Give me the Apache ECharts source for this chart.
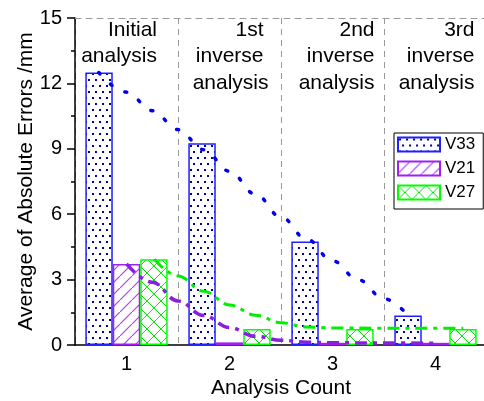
<!DOCTYPE html>
<html>
<head>
<meta charset="utf-8">
<script src="https://cdn.jsdelivr.net/npm/echarts@6/dist/echarts.min.js"></script>
<style>
html, body { margin: 0; padding: 0; background: #fff; }
#main { width: 484px; height: 401px; }
</style>
</head>
<body>
<div id="main"></div>
<script>
// data
var counts = ['1', '2', '3', '4'];
var v33 = [12.5, 9.25, 4.75, 1.35];
var v21 = [3.72, 0.12, 0.1, 0.1];
var v27 = [3.93, 0.73, 0.73, 0.73];
// trend curves: [analysis count, error]
var v33Trend = [[0.73, 12.5], [1, 11.6], [1.25, 10.75], [1.5, 9.88], [1.75, 8.96], [2, 7.97], [2.25, 6.92],
    [2.5, 5.87], [2.75, 4.85], [3, 3.86], [3.25, 2.99], [3.5, 2.12], [3.73, 1.38]];
var v21Trend = [[1, 3.72], [1.25, 2.88], [1.5, 2.02], [1.75, 1.35], [2, 0.8], [2.25, 0.4], [2.5, 0.22],
    [2.75, 0.13], [3, 0.1], [3.5, 0.09], [4, 0.08]];
var v27Trend = [[1.27, 3.93], [1.5, 3.17], [1.75, 2.46], [2, 1.84], [2.25, 1.37], [2.5, 1.02], [2.75, 0.83],
    [3, 0.78], [3.5, 0.77], [4, 0.77], [4.27, 0.77]];
var stageLines = [['Initial', 'analysis'], ['1st', 'inverse', 'analysis'],
    ['2nd', 'inverse', 'analysis'], ['3rd', 'inverse', 'analysis']];

var FONT = 'Liberation Sans, Arial, sans-serif';

// fill patterns for the bars
function tile(w, h, draw) {
    var c = document.createElement('canvas');
    c.width = w; c.height = h;
    var g = c.getContext('2d');
    g.fillStyle = '#ffffff';
    g.fillRect(0, 0, w, h);
    draw(g);
    return { image: c, repeat: 'repeat' };
}
function dots() {
    return tile(7, 12, function (g) {
        g.fillStyle = '#00009c';
        g.fillRect(1, 1, 2, 2);
        g.fillRect(4, 7, 2, 2);
    });
}
function hatch() {
    return tile(12, 12, function (g) {
        g.strokeStyle = '#b040ff';
        g.lineWidth = 1.2;
        g.beginPath();
        g.moveTo(-1, 13); g.lineTo(13, -1);
        g.stroke();
    });
}
function cross() {
    return tile(14, 14, function (g) {
        g.strokeStyle = '#00ee00';
        g.lineWidth = 1;
        g.beginPath();
        g.moveTo(-1, -1); g.lineTo(15, 15);
        g.moveTo(-1, 15); g.lineTo(15, -1);
        g.stroke();
    });
}

// stage captions at the top of each band
var captionRight = [157, 263.5, 374.5, 474.5];
var captionBase = [37, 63.5, 90];
var graphics = [];
stageLines.forEach(function (lines, i) {
    lines.forEach(function (t, j) {
        var x = captionRight[i];
        if (i === 1 && j === 2) x += 5;
        graphics.push({
            type: 'text',
            x: x, y: captionBase[j] - 7,
            style: { text: t, align: 'right', verticalAlign: 'middle', font: '21px ' + FONT, fill: '#000' }
        });
    });
});

var myChart = echarts.init(document.getElementById('main'));

var option = {
    animation: false,
    backgroundColor: '#fff',
    textStyle: { fontFamily: FONT },
    grid: { left: 75, top: 18, width: 412, bottom: 56, outerBoundsMode: 'none' },
    legend: {
        data: ['V33', 'V21', 'V27'],
        orient: 'vertical',
        left: 394, top: 133,
        icon: 'rect',
        itemWidth: 42, itemHeight: 14, itemGap: 7,
        padding: [3, 8, 8, 3],
        borderColor: '#000', borderWidth: 1,
        textStyle: { fontSize: 17, color: '#000' }
    },
    xAxis: [{
        type: 'category',
        data: counts,
        name: 'Analysis Count',
        nameLocation: 'middle',
        nameGap: 33,
        nameMoveOverlap: false,
        nameTextStyle: { fontSize: 21, color: '#000' },
        axisLine: { lineStyle: { color: '#000', width: 1.5 } },
        axisTick: { alignWithLabel: true, length: 8, lineStyle: { color: '#000', width: 1.5 } },
        axisLabel: { fontSize: 20, color: '#000', margin: 9 },
        splitLine: { show: true, lineStyle: { color: '#999', type: [6, 5], width: 1 } }
    }, {
        type: 'value',
        position: 'top',
        min: 0.5, max: 4.5,
        axisLine: { show: true, onZero: false, lineStyle: { color: '#999', type: [6, 5], width: 1 } },
        axisTick: { show: false },
        axisLabel: { show: false },
        splitLine: { show: false }
    }],
    yAxis: {
        type: 'value',
        min: 0, max: 15, interval: 3,
        name: 'Average of Absolute Errors /mm',
        nameLocation: 'middle',
        nameGap: 38,
        nameMoveOverlap: false,
        nameTextStyle: { fontSize: 21, color: '#000' },
        axisLine: { show: true, lineStyle: { color: '#000', width: 1.5 } },
        axisTick: { show: true, length: 8, lineStyle: { color: '#000', width: 1.5 } },
        minorTick: { show: true, splitNumber: 2, length: 4, lineStyle: { color: '#000', width: 1.5 } },
        axisLabel: { fontSize: 20, color: '#000', margin: 13 },
        splitLine: { show: false }
    },
    graphic: graphics,
    series: [
        { name: 'V33', type: 'bar', data: v33, barCategoryGap: '20%', barGap: '0%',
          itemStyle: { color: dots(), borderColor: '#2020ff', borderWidth: 1.5 } },
        { name: 'V21', type: 'bar', data: v21,
          itemStyle: { color: hatch(), borderColor: '#a020f0', borderWidth: 1.5 } },
        { name: 'V27', type: 'bar', data: v27,
          itemStyle: { color: cross(), borderColor: '#00ff00', borderWidth: 1.5 } },
        { type: 'line', xAxisIndex: 1, data: v33Trend, symbol: 'none', smooth: 0.4, smoothMonotone: 'x', z: 5,
          lineStyle: { color: '#0000ee', width: 3.5, type: [2, 14.5], cap: 'round' } },
        { type: 'line', xAxisIndex: 1, data: v21Trend, symbol: 'none', smooth: 0.4, smoothMonotone: 'x', z: 5,
          lineStyle: { color: '#8b1fe0', width: 3.5, type: [12, 6, 4, 6] } },
        { type: 'line', xAxisIndex: 1, data: v27Trend, symbol: 'none', smooth: 0.4, smoothMonotone: 'x', z: 5,
          lineStyle: { color: '#00ee00', width: 3, type: [12, 6, 4, 6] } }
    ]
};

myChart.setOption(option);

window.addEventListener('resize', function () {
    myChart.resize();
});
</script>
</body>
</html>
